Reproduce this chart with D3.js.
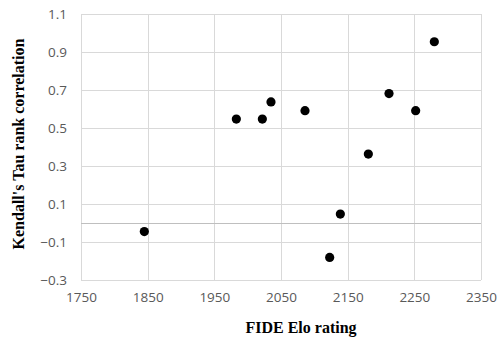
<!DOCTYPE html>
<html>
<head>
<meta charset="utf-8">
<script src="https://cdn.jsdelivr.net/npm/d3@7"></script>
<style>
  html, body { margin: 0; padding: 0; background: #fff; overflow: hidden; }
  svg { display: block; }
</style>
</head>
<body>
<svg id="chart" width="499" height="340" viewBox="0 0 499 340"></svg>
<script>
// Elo rating vs Kendall's tau
const elo = [1845, 1983, 2022, 2035, 2086, 2123, 2139, 2181, 2212, 2252, 2280];
const tau = [-0.045, 0.547, 0.547, 0.637, 0.591, -0.181, 0.047, 0.363, 0.681, 0.591, 0.954];
const xTicks = [1750, 1850, 1950, 2050, 2150, 2250, 2350];
const yTicks = [-0.3, -0.1, 0.1, 0.3, 0.5, 0.7, 0.9, 1.1];

const svg = d3.select("#chart");
const margin = { top: 14, right: 18, bottom: 60, left: 81 };
const width = 499;
const innerWidth = width - margin.left - margin.right;
const innerHeight = 280 - margin.top;

const x = d3.scaleLinear().domain([1750, 2350]).range([0, innerWidth]);
const y = d3.scaleLinear().domain([-0.3, 1.1]).range([innerHeight, 0]);

const g = svg.append("g")
    .attr("transform", `translate(${margin.left},${margin.top})`);

// gridlines
g.append("g")
    .selectAll("line")
    .data(yTicks)
    .join("line")
    .attr("x1", 0)
    .attr("x2", innerWidth)
    .attr("y1", d => Math.round(y(d)) + 0.5)
    .attr("y2", d => Math.round(y(d)) + 0.5)
    .attr("stroke", "#d9d9d9");

g.append("g")
    .selectAll("line")
    .data(xTicks)
    .join("line")
    .attr("x1", d => Math.round(x(d)) + 0.5)
    .attr("x2", d => Math.round(x(d)) + 0.5)
    .attr("y1", 0)
    .attr("y2", innerHeight)
    .attr("stroke", "#d9d9d9");

// zero line (horizontal axis)
g.append("line")
    .attr("x1", 0)
    .attr("x2", innerWidth)
    .attr("y1", Math.round(y(0)) + 0.5)
    .attr("y2", Math.round(y(0)) + 0.5)
    .attr("stroke", "#bfbfbf");

// tick labels
const yAxis = d3.axisLeft(y)
    .tickValues(yTicks)
    .tickSize(0)
    .tickPadding(14)
    .tickFormat(d3.format(".1f"));

const xAxis = d3.axisBottom(x)
    .tickValues(xTicks)
    .tickSize(0)
    .tickPadding(12)
    .tickFormat(d3.format("d"));

g.append("g")
    .call(yAxis)
    .attr("font-family", "'Open Sans', sans-serif")
    .attr("font-size", 13.5)
    .call(a => a.select(".domain").remove());

g.append("g")
    .attr("transform", `translate(0,${innerHeight})`)
    .call(xAxis)
    .attr("font-family", "'Open Sans', sans-serif")
    .attr("font-size", 13.5)
    .call(a => a.select(".domain").remove());

g.selectAll(".tick text").attr("fill", "#595959");

// points
g.append("g")
    .selectAll("circle")
    .data(elo.map((e, i) => ({ elo: e, tau: tau[i] })))
    .join("circle")
    .attr("cx", d => x(d.elo))
    .attr("cy", d => y(d.tau))
    .attr("r", 4.6)
    .attr("fill", "#000");

// axis titles
svg.append("text")
    .attr("x", 301)
    .attr("y", 333)
    .attr("text-anchor", "middle")
    .attr("font-family", "'Liberation Serif', 'Times New Roman', serif")
    .attr("font-weight", "bold")
    .attr("font-size", 16)
    .text("FIDE Elo rating");

svg.append("text")
    .attr("transform", "rotate(-90)")
    .attr("x", -144)
    .attr("y", 24)
    .attr("text-anchor", "middle")
    .attr("font-family", "'Liberation Serif', 'Times New Roman', serif")
    .attr("font-weight", "bold")
    .attr("font-size", 16)
    .text("Kendall's Tau rank correlation");
</script>
</body>
</html>
